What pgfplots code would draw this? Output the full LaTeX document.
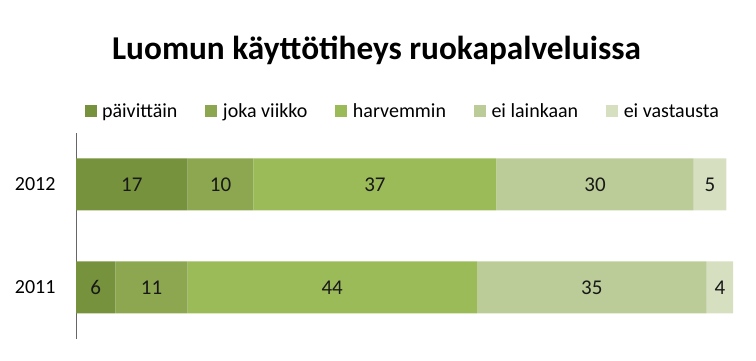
\documentclass[border=0pt]{standalone}
\usepackage{fontspec}
\setmainfont{Carlito}
\usepackage{pgfplots}
\pgfplotsset{compat=1.18}
\definecolor{c1}{HTML}{76923C}
\definecolor{c2}{HTML}{8DA650}
\definecolor{c3}{HTML}{9BBB59}
\definecolor{c4}{HTML}{BBCC98}
\definecolor{c5}{HTML}{D6DFC0}
\pgfplotsset{common/.style={
  at={(76bp,22bp)}, anchor=south west,
  scale only axis, width=657bp, height=206bp,
  xmin=0, xmax=100, ymin=0.5, ymax=2.5}}
\begin{document}
\begin{tikzpicture}
\useasboundingbox (0,0) rectangle (756bp,361bp);
\node[anchor=base, font=\fontsize{33.3bp}{38bp}\selectfont\bfseries] at (376.5bp,301bp) {Luomun käyttötiheys ruokapalveluissa};
\begin{axis}[
  common,
  xbar stacked, bar width=52bp,
  axis x line=none,
  axis y line*=left,
  y axis line style={draw=black!60, -},
  ytick={1,2}, yticklabels={2011,2012},
  major tick length=0pt,
  yticklabel style={font=\fontsize{20bp}{24bp}\selectfont, xshift=-17bp},
  /pgf/number format/assume math mode=true,
  legend style={at={(0.5,1.0)}, anchor=center, yshift=22bp, draw=none, fill=none,
    legend columns=5, font=\fontsize{20bp}{24bp}\selectfont,
    nodes={inner xsep=5.5bp},
    /tikz/every even column/.append style={column sep=22.5bp}},
  legend image code/.code={\fill[#1] (0bp,-6bp) rectangle (12bp,6bp);},
]
\addplot[fill=c1, draw=none] coordinates {(6,1) (17,2)};
\addplot[fill=c2, draw=none] coordinates {(11,1) (10,2)};
\addplot[fill=c3, draw=none] coordinates {(44,1) (37,2)};
\addplot[fill=c4, draw=none] coordinates {(35,1) (30,2)};
\addplot[fill=c5, draw=none] coordinates {(4,1) (5,2)};
\legend{päivittäin, joka viikko, harvemmin, ei lainkaan, ei vastausta}
\end{axis}
\begin{axis}[common, hide axis]
\addplot[draw=none, mark=none, point meta=explicit symbolic, nodes near coords,
  every node near coord/.style={anchor=center, font=\fontsize{21bp}{25bp}\selectfont, text=black!90}]
  coordinates {(8.5,2) [17] (22,2) [10] (45.5,2) [37] (79,2) [30] (96.5,2) [5]
               (3,1) [6] (11.5,1) [11] (39,1) [44] (78.5,1) [35] (98,1) [4]};
\end{axis}
\end{tikzpicture}
\end{document}
